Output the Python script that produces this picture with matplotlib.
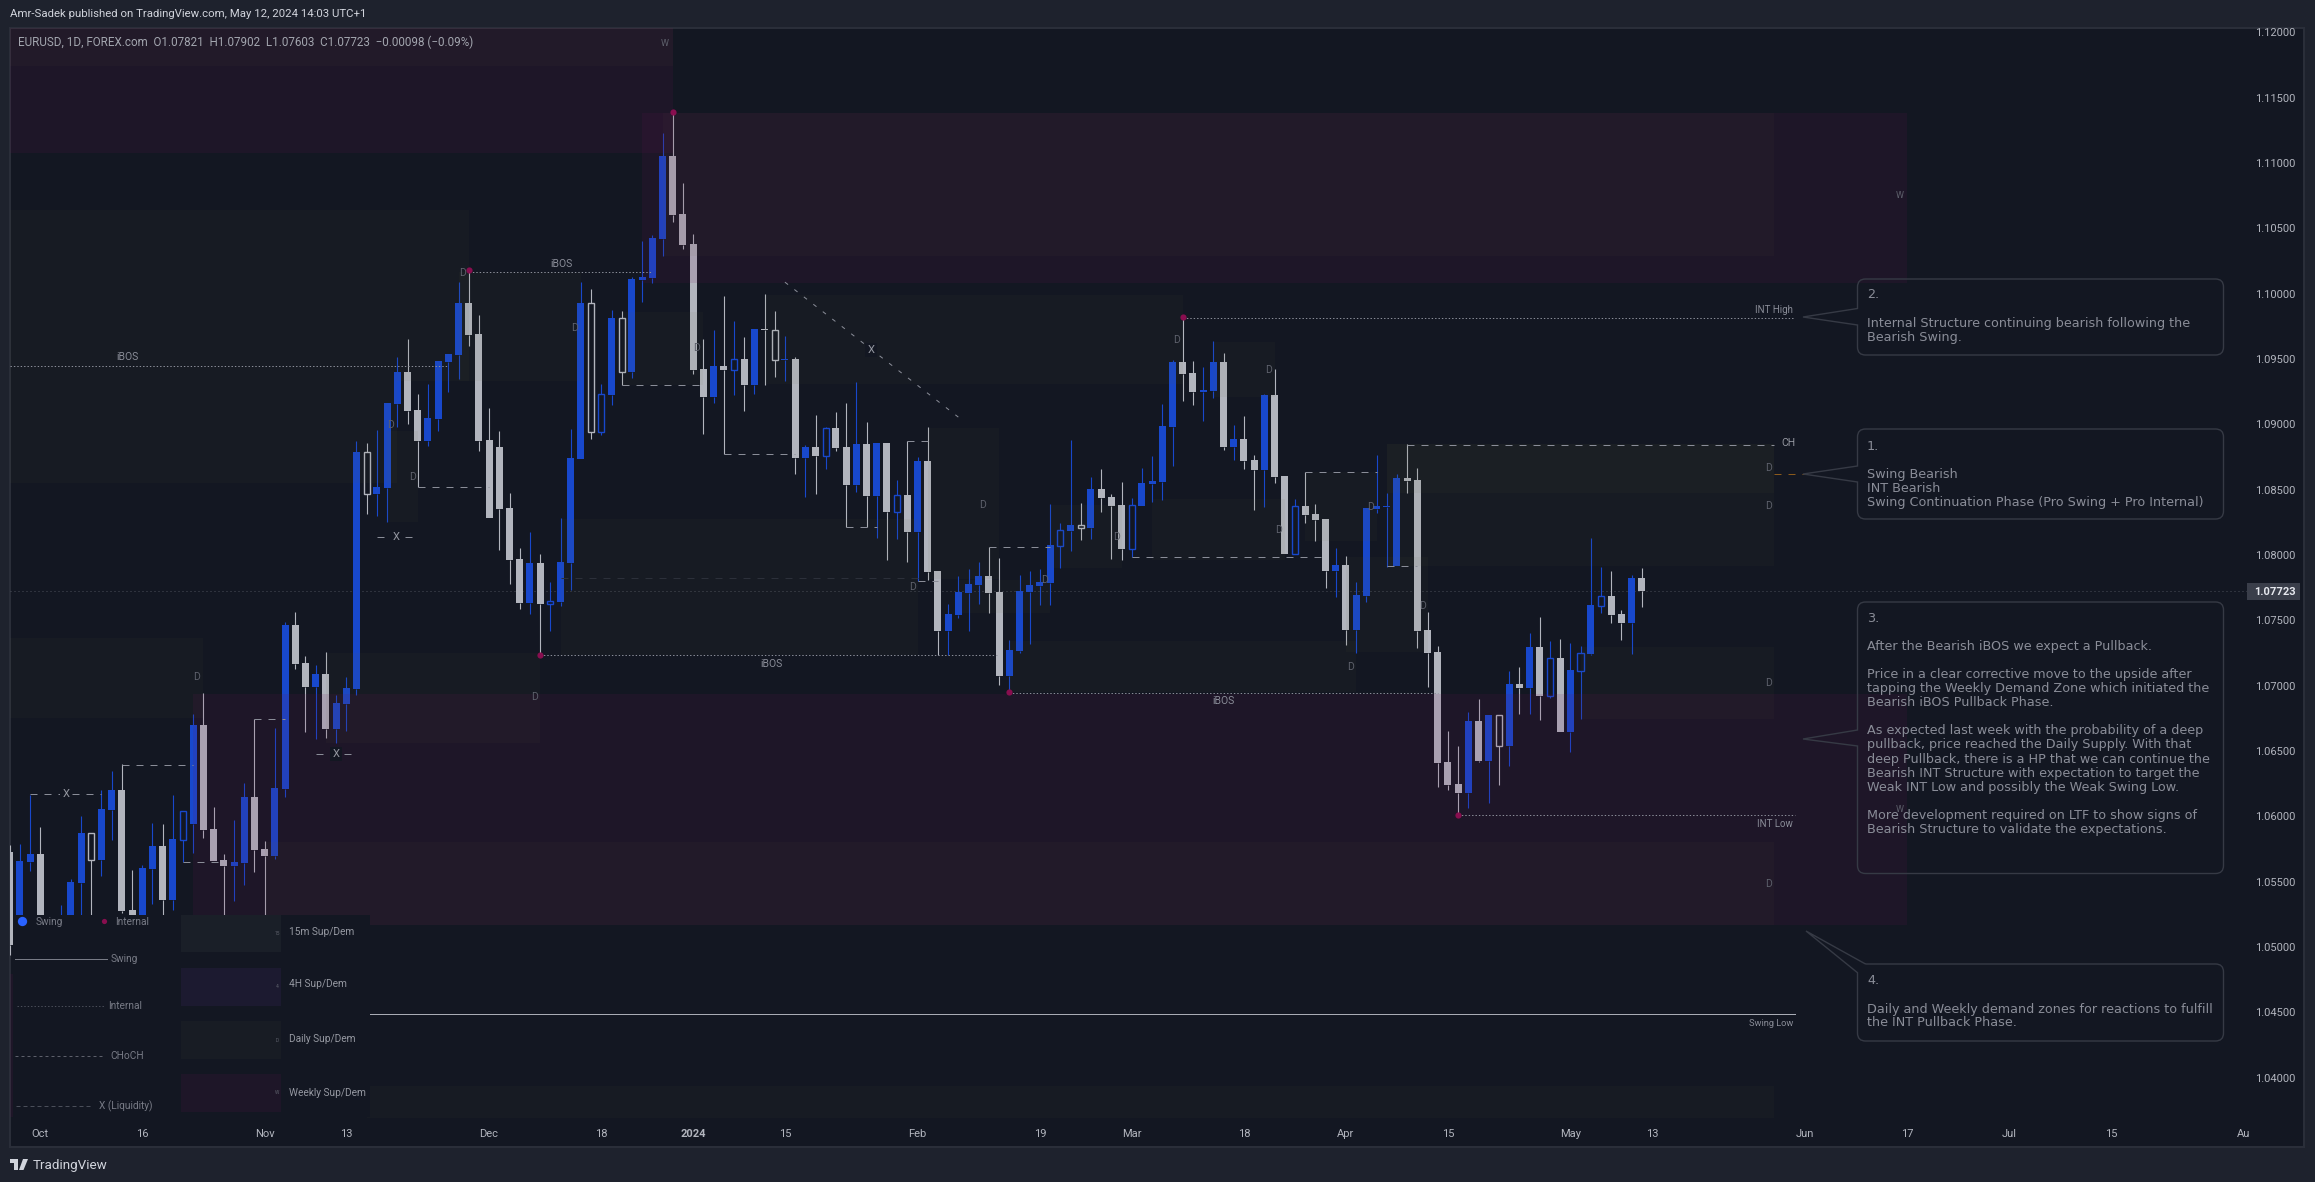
import numpy as np
import matplotlib
matplotlib.use("Agg")
import matplotlib.pyplot as plt
from matplotlib.lines import Line2D
from matplotlib.patches import PathPatch, Polygon, Rectangle
from matplotlib.path import Path
from matplotlib.transforms import Affine2D

W, H = 2315, 1182
FRAME = "#1e222d"
PANE = "#131722"
BLUE = "#1848cc"
GRAY = "#b2b5be"
TEXT = "#787b86"
WEEKLY = "#6f0f54"
DAILY = "#666a43"

plt.rcParams["font.family"] = ["Roboto", "DejaVu Sans"]

# Daily candles, first bar is three sessions before 2 Oct 2023
first_bar = -3
bar_open = [
    1.05726, 1.05129, 1.05650, 1.05710, 1.05129, 1.04976, 1.05167, 1.05488, 1.05871, 1.05665,
    1.06047, 1.06200, 1.05282, 1.05167, 1.05596, 1.05772, 1.05358, 1.05818, 1.05940, 1.06698,
    1.05902, 1.05665, 1.05619, 1.05642, 1.06147, 1.05749, 1.05695, 1.06208, 1.07464, 1.07172,
    1.06989, 1.07088, 1.06667, 1.06858, 1.06973, 1.08788, 1.08466, 1.08512, 1.09155, 1.09400,
    1.09109, 1.08872, 1.09040, 1.09476, 1.09530, 1.09928, 1.09691, 1.08879, 1.08826, 1.08359,
    1.07968, 1.07632, 1.07938, 1.07624, 1.07640, 1.07938, 1.08734, 1.09928, 1.08941, 1.09224,
    1.09813, 1.09400, 1.10104, 1.10120, 1.10418, 1.11053, 1.10609, 1.10380, 1.09423, 1.09209,
    1.09446, 1.09415, 1.09499, 1.09300, 1.09729, 1.09721, 1.09492, 1.09499, 1.08742, 1.08826,
    1.08757, 1.08971, 1.08826, 1.08535, 1.08849, 1.08451, 1.08856, 1.08329, 1.08458, 1.08175,
    1.08719, 1.07877, 1.07417, 1.07540, 1.07708, 1.07769, 1.07838, 1.07716, 1.07073, 1.07264,
    1.07716, 1.07762, 1.07785, 1.08068, 1.08183, 1.08229, 1.08206, 1.08504, 1.08443, 1.08382,
    1.08045, 1.08374, 1.08543, 1.08558, 1.08979, 1.09476, 1.09392, 1.09247, 1.09255, 1.09476,
    1.08826, 1.08887, 1.08726, 1.08650, 1.09224, 1.08604, 1.08007, 1.08374, 1.08313, 1.08275,
    1.07877, 1.07923, 1.07425, 1.07685, 1.08351, 1.08367, 1.07915, 1.08588, 1.08573, 1.07425,
    1.07257, 1.06415, 1.06246, 1.06177, 1.06729, 1.06423, 1.06774, 1.06537, 1.07011, 1.06981,
    1.07295, 1.06920, 1.07211, 1.06645, 1.07111, 1.07241, 1.07609, 1.07685, 1.07548, 1.07479,
    1.07821,
]
bar_high = [
    1.05779, 1.05787, 1.06162, 1.05917, 1.05205, 1.05320, 1.05519, 1.06001, 1.05871, 1.06200,
    1.06346, 1.06399, 1.05588, 1.05627, 1.05948, 1.05940, 1.06162, 1.06040, 1.06782, 1.06943,
    1.06070, 1.05710, 1.05971, 1.06254, 1.06744, 1.05810, 1.06675, 1.07487, 1.07563, 1.07226,
    1.07157, 1.07257, 1.06928, 1.07065, 1.08872, 1.08856, 1.08956, 1.09163, 1.09515, 1.09653,
    1.09231, 1.09308, 1.09484, 1.09537, 1.10089, 1.10181, 1.09836, 1.09125, 1.08948, 1.08474,
    1.08053, 1.08175, 1.08007, 1.07792, 1.08282, 1.08964, 1.10089, 1.10035, 1.09308, 1.09875,
    1.09867, 1.10127, 1.10402, 1.10448, 1.11229, 1.11390, 1.10847, 1.10456, 1.09653, 1.09721,
    1.09982, 1.09790, 1.09668, 1.09729, 1.09997, 1.09867, 1.09675, 1.09515, 1.08841, 1.09071,
    1.08979, 1.09094, 1.09163, 1.09323, 1.09017, 1.08856, 1.08856, 1.08573, 1.08872, 1.08749,
    1.08979, 1.07877, 1.07624, 1.07838, 1.07892, 1.07946, 1.08060, 1.07976, 1.07349, 1.07846,
    1.07876, 1.07892, 1.08389, 1.08244, 1.08879, 1.08397, 1.08596, 1.08657, 1.08466, 1.08558,
    1.08435, 1.08665, 1.08757, 1.09155, 1.09492, 1.09821, 1.09484, 1.09438, 1.09637, 1.09545,
    1.08994, 1.09063, 1.08765, 1.09231, 1.09423, 1.08604, 1.08428, 1.08634, 1.08389, 1.08275,
    1.08053, 1.07992, 1.07792, 1.08359, 1.08765, 1.08474, 1.08619, 1.08849, 1.08665, 1.07563,
    1.07303, 1.06652, 1.06537, 1.06798, 1.06897, 1.06774, 1.06774, 1.07111, 1.07142, 1.07402,
    1.07525, 1.07341, 1.07356, 1.07326, 1.07303, 1.08130, 1.07907, 1.07876, 1.07578, 1.07846,
    1.07902,
]
bar_low = [
    1.04937, 1.05052, 1.05580, 1.05014, 1.04899, 1.04937, 1.05091, 1.05167, 1.05167, 1.05542,
    1.05818, 1.05259, 1.05129, 1.05091, 1.05327, 1.05167, 1.05282, 1.05650, 1.05718, 1.05833,
    1.05657, 1.05167, 1.05350, 1.05473, 1.05573, 1.05167, 1.05672, 1.06147, 1.07127, 1.06645,
    1.06591, 1.06599, 1.06560, 1.06652, 1.06928, 1.08313, 1.08298, 1.08252, 1.08979, 1.09002,
    1.08520, 1.08834, 1.08948, 1.09247, 1.09346, 1.09599, 1.08795, 1.08282, 1.08037, 1.07777,
    1.07586, 1.07548, 1.07234, 1.07417, 1.07609, 1.07731, 1.08734, 1.08887, 1.08918, 1.09148,
    1.09300, 1.09354, 1.09936, 1.10081, 1.10288, 1.10548, 1.10341, 1.09384, 1.08925, 1.09163,
    1.08772, 1.09224, 1.09101, 1.09231, 1.09300, 1.09361, 1.09331, 1.08619, 1.08443, 1.08466,
    1.08657, 1.08795, 1.08214, 1.08481, 1.08214, 1.08130, 1.07961, 1.08122, 1.07946, 1.07800,
    1.07808, 1.07234, 1.07234, 1.07517, 1.07417, 1.07624, 1.07555, 1.07004, 1.06950, 1.07249,
    1.07318, 1.07617, 1.07617, 1.07899, 1.08030, 1.08114, 1.08122, 1.08329, 1.07968, 1.07961,
    1.07984, 1.08374, 1.08405, 1.08420, 1.08680, 1.09178, 1.09148, 1.09025, 1.09201, 1.08803,
    1.08726, 1.08657, 1.08344, 1.08367, 1.08550, 1.08007, 1.08007, 1.08244, 1.08107, 1.07746,
    1.07678, 1.07310, 1.07249, 1.07640, 1.08321, 1.07907, 1.07915, 1.08474, 1.07287, 1.06989,
    1.06223, 1.06200, 1.06009, 1.06063, 1.06415, 1.06101, 1.06239, 1.06384, 1.06782, 1.06782,
    1.06736, 1.06905, 1.06645, 1.06492, 1.06744, 1.07234, 1.07555, 1.07479, 1.07349, 1.07241,
    1.07603,
]
bar_close = [
    1.05014, 1.05657, 1.05710, 1.05091, 1.04976, 1.05205, 1.05496, 1.05871, 1.05665, 1.06055,
    1.06200, 1.05274, 1.05220, 1.05603, 1.05772, 1.05358, 1.05825, 1.06040, 1.06698, 1.05894,
    1.05657, 1.05619, 1.05650, 1.06147, 1.05741, 1.05695, 1.06215, 1.07464, 1.07165, 1.06989,
    1.07088, 1.06667, 1.06866, 1.06981, 1.08788, 1.08466, 1.08520, 1.09163, 1.09400, 1.09101,
    1.08872, 1.09048, 1.09484, 1.09537, 1.09928, 1.09683, 1.08872, 1.08282, 1.08351, 1.07961,
    1.07632, 1.07938, 1.07624, 1.07647, 1.07946, 1.08742, 1.09928, 1.08941, 1.09231, 1.09813,
    1.09400, 1.10112, 1.10127, 1.10425, 1.11053, 1.10602, 1.10372, 1.09415, 1.09209, 1.09446,
    1.09415, 1.09499, 1.09300, 1.09729, 1.09721, 1.09492, 1.09499, 1.08742, 1.08826, 1.08757,
    1.08971, 1.08818, 1.08535, 1.08849, 1.08451, 1.08856, 1.08329, 1.08458, 1.08175, 1.08719,
    1.07869, 1.07417, 1.07548, 1.07716, 1.07777, 1.07838, 1.07708, 1.07073, 1.07272, 1.07724,
    1.07769, 1.07792, 1.08076, 1.08191, 1.08229, 1.08206, 1.08504, 1.08435, 1.08374, 1.08045,
    1.08382, 1.08550, 1.08566, 1.08987, 1.09476, 1.09384, 1.09247, 1.09262, 1.09476, 1.08826,
    1.08887, 1.08719, 1.08650, 1.09224, 1.08596, 1.08007, 1.08374, 1.08305, 1.08267, 1.07877,
    1.07923, 1.07425, 1.07693, 1.08359, 1.08374, 1.08374, 1.08588, 1.08566, 1.07417, 1.07249,
    1.06407, 1.06239, 1.06177, 1.06729, 1.06423, 1.06774, 1.06537, 1.07011, 1.06981, 1.07295,
    1.06920, 1.07211, 1.06645, 1.07119, 1.07249, 1.07617, 1.07685, 1.07540, 1.07479, 1.07823,
    1.07723,
]
hollow_bars = [5, 14, 32, 50, 54, 55, 57, 68, 72, 77, 84, 100, 102, 107, 123, 143, 148, 151, 153]

high_marks = [42, 62, 112]
low_marks = [49, 95, 139]

price_ticks = [1.04, 1.045, 1.05, 1.055, 1.06, 1.065, 1.07, 1.075, 1.08, 1.085,
               1.09, 1.095, 1.10, 1.105, 1.11, 1.115, 1.12]
time_ticks = [0, 10, 22, 30, 44, 55, 64, 73, 86, 98, 107, 118, 128, 138, 150, 158, 173, 183, 193, 203, 216]
time_labels = ["Oct", "16", "Nov", "13", "Dec", "18", "2024", "15", "Feb", "19", "Mar",
               "18", "Apr", "15", "May", "13", "Jun", "17", "Jul", "15", "Au"]

# Zones as (first bar, last bar, top price, bottom price)
weekly_zones = [
    (-3, 62, 1.1204, 1.11076),
    (59, 183, 1.11382, 1.10081),
    (15, 183, 1.06939, 1.05167),
    (-3, 0, 1.04794, 1.03700),
]
daily_zones = [
    (-3, 62, 1.1204, 1.11743),
    (61, 170, 1.11382, 1.10288),
    (22, 170, 1.05802, 1.05167),
    (-3, 42, 1.10640, 1.09331),
    (-3, 35, 1.09331, 1.08550),
    (41, 53, 1.10165, 1.09331),
    (34, 37, 1.08948, 1.08252),
    (-3, 16, 1.07364, 1.06751),
    (28, 49, 1.07249, 1.06560),
    (57, 65, 1.09859, 1.09300),
    (71, 112, 1.09990, 1.09308),
    (87, 94, 1.08971, 1.07815),
    (51, 86, 1.08275, 1.07234),
    (99, 106, 1.08382, 1.07899),
    (90, 99, 1.07808, 1.07555),
    (109, 122, 1.08428, 1.07961),
    (115, 121, 1.09630, 1.09209),
    (124, 131, 1.08634, 1.08107),
    (132, 170, 1.08849, 1.08474),
    (132, 170, 1.08849, 1.07915),
    (128, 136, 1.07984, 1.07257),
    (95, 129, 1.07341, 1.06950),
    (151, 170, 1.07295, 1.06744),
    (32, 170, 1.03937, 1.03692),
]

# Structure lines as (first bar, last bar, price)
dotted_lines = [
    (-3, 40, 1.09450),
    (42, 60, 1.10169),
    (49, 94, 1.07232),
    (95, 137, 1.06945),
    (112, 172, 1.09813),
    (139, 172, 1.06010),
]
dashed_lines = [
    (-1, 6, 1.06168), (8, 15, 1.06397), (14, 18, 1.05650), (21, 24, 1.06744),
    (27, 31, 1.06476), (37, 44, 1.08520), (33, 37, 1.08137), (57, 65, 1.09300),
    (67, 74, 1.08772), (79, 82, 1.08214), (85, 87, 1.08872), (86, 88, 1.07800),
    (93, 99, 1.08060), (107, 126, 1.07984), (124, 131, 1.08634), (132, 135, 1.07915),
    (134, 170, 1.08845),
]
liquidity_bars = [73, 90]
liquidity_prices = [1.10089, 1.09056]
swing_low = (32, 172, 1.04484)
dim_line = (51, 86, 1.07822)
orange_line = (170, 173, 1.08619)
last_price = 1.07723

fig = plt.figure(figsize=(W / 100, H / 100), dpi=100, facecolor=FRAME)
# image pixels, y down, used for annotation furniture only
pix = Affine2D().scale(1 / W, -1 / H).translate(0, 1) + fig.transFigure

fig.add_artist(Rectangle((10, 28), 2294, 1119, transform=pix, facecolor=PANE,
                         edgecolor="#2a2e39", linewidth=1.5, zorder=-1))

ax = fig.add_axes([10 / W, 1 - 1119 / H, 2237 / W, 1091 / H])
ax.patch.set_visible(False)
for side in ax.spines.values():
    side.set_visible(False)

idx = np.arange(first_bar, first_bar + len(bar_open))
o = np.array(bar_open)
h = np.array(bar_high)
l = np.array(bar_low)
c = np.array(bar_close)
up = c >= o
hollow = np.isin(idx, hollow_bars)
body_top = np.maximum(o, c)
body_bot = np.minimum(o, c)
colors = np.where(up, BLUE, GRAY)

# Candles
ax.vlines(idx, body_top, h, colors=colors, linewidth=0.8, zorder=2)
ax.vlines(idx, l, body_bot, colors=colors, linewidth=0.8, zorder=2)
solid = ~hollow
ax.bar(idx[solid], (body_top - body_bot)[solid], bottom=body_bot[solid], width=0.68,
       color=colors[solid], linewidth=0, zorder=2)
ax.bar(idx[hollow], (body_top - body_bot)[hollow], bottom=body_bot[hollow], width=0.6,
       facecolor="none", edgecolor=colors[hollow], linewidth=1.0, zorder=2)

# Zones sit on top of the candles and tint them
for a, b, top, bot in weekly_zones:
    ax.fill_between([a, b], bot, top, color=WEEKLY, alpha=0.12, linewidth=0, zorder=3)
for a, b, top, bot in daily_zones:
    ax.fill_between([a, b], bot, top, color=DAILY, alpha=0.06, linewidth=0, zorder=3)

# Structure lines
ax.axhline(last_price, color="#4a4e59", linewidth=0.72, dashes=(1, 3), zorder=1)
for a, b, p in dotted_lines:
    ax.plot([a, b], [p, p], color="#8a8d98", linewidth=0.72, dashes=(1.4, 2), zorder=4)
for a, b, p in dashed_lines:
    ax.plot([a, b], [p, p], color="#8a8d98", linewidth=0.72, dashes=(7, 7), zorder=4)
ax.plot(liquidity_bars, liquidity_prices, color="#8a8d98", linewidth=0.72, dashes=(4, 8), zorder=4)
ax.plot(swing_low[:2], [swing_low[2]] * 2, color="#a9acb5", linewidth=0.72, zorder=4)
ax.plot(dim_line[:2], [dim_line[2]] * 2, color="#2c303a", linewidth=0.72, dashes=(7, 7), zorder=4)
ax.plot(orange_line[:2], [orange_line[2]] * 2, color="#8a5a1c", linewidth=0.72, dashes=(7, 7), zorder=4)

# Swing and internal points
mark_idx = [i for i in high_marks + low_marks]
mark_price = [h[i - first_bar] for i in high_marks] + [l[i - first_bar] for i in low_marks]
ax.scatter(mark_idx, mark_price, s=20, color="#880e4f", linewidths=0, zorder=5)

ax.set_xlim(-2.97, 216.34)
ax.set_ylim(1.03684, 1.12034)

ax.yaxis.tick_right()
ax.set_yticks(price_ticks)
ax.set_yticklabels(["%.5f" % p for p in price_ticks])
ax.set_xticks(time_ticks)
ax.set_xticklabels(time_labels)
ax.tick_params(axis="y", length=0, pad=6, labelsize=8, labelcolor=GRAY)
ax.tick_params(axis="x", length=0, pad=7, labelsize=8, labelcolor=GRAY)
for lab in ax.get_xticklabels():
    if lab.get_text() == "2024":
        lab.set_fontweight("bold")


def label(x, y, s, size=7.5, color=TEXT, ha="center", **kw):
    ax.text(x, y, s, transform=pix, fontsize=size, color=color, ha=ha, va="center",
            clip_on=False, zorder=kw.pop("zorder", 6), **kw)


# Zone and structure labels
d_spots = [(463, 273), (575, 328), (391, 425), (412, 477), (197, 677), (534, 697), (696, 348),
           (982, 505), (912, 587), (1116, 537), (1044, 580), (1279, 530), (1269, 370), (1371, 507),
           (1769, 468), (1769, 506), (1769, 683), (1769, 884), (1422, 606), (1351, 667), (1177, 340)]
for x, y in d_spots:
    label(x, y, "D", color="#5d606b")
for x, y in [(665, 43), (1900, 196), (1900, 810)]:
    label(x, y, "W", size=6.5, color="#5d606b")
for x, y in [(127, 357), (561, 264), (771, 664), (1223, 701)]:
    label(x, y, "iBOS", color="#8a8d98")
label(1793, 310, "INT High", size=7, color="#8a8d98", ha="right")
label(1793, 824, "INT Low", size=7, color="#8a8d98", ha="right")
label(1793, 1023, "Swing Low", size=6.7, color="#8a8d98", ha="right")
label(1788, 443, "CH", size=7.5, color="#9598a1")
knock = dict(facecolor=PANE, edgecolor="none", pad=1.5)
for x, y in [(66, 794), (336, 754), (396, 537), (871, 350)]:
    label(x, y, "X", size=8, color="#9598a1", bbox=knock)

# Top and bottom strips
label(10, 14, "Amr-Sadek published on TradingView.com, May 12, 2024 14:03 UTC+1", size=8.2,
      color="#d1d4dc", ha="left")
label(18, 42, "EURUSD, 1D, FOREX.com  O1.07821  H1.07902  L1.07603  C1.07723  \u22120.00098 (\u22120.09%)",
      size=8.4, color="#a3a6af", ha="left")
label(33, 1165, "TradingView", size=9.7, color="#d1d4dc", ha="left")
fig.add_artist(Polygon([(10, 1159), (18, 1159), (18, 1170), (14, 1170), (14, 1163), (10, 1163)],
                       transform=pix, facecolor="#d1d4dc", edgecolor="none"))
fig.add_artist(Polygon([(23, 1159), (28, 1159), (23.5, 1170), (19, 1170)],
                       transform=pix, facecolor="#d1d4dc", edgecolor="none"))

# Last price tag
ax.add_patch(Rectangle((2247, 583), 53, 17, transform=pix, facecolor="#3a3e4a", edgecolor="none",
                       clip_on=False, zorder=6))
label(2275, 592, "1.07723", size=8, color="#e6e8ee", fontweight="bold", zorder=7)

# Legend panel
ax.add_patch(Rectangle((13, 915), 357, 202, transform=pix, facecolor=PANE, edgecolor="none",
                       clip_on=False, zorder=4.5))
swatches = [(915, 37, "#1a1f28", "15", "15m Sup/Dem", 932), (968, 38, "#1c1a30", "4", "4H Sup/Dem", 984),
            (1021, 38, "#181c24", "D", "Daily Sup/Dem", 1039), (1074, 38, "#1e1628", "W", "Weekly Sup/Dem", 1093)]
for top, height, col, tag, name, ty in swatches:
    ax.add_patch(Rectangle((181, top), 100, height, transform=pix, facecolor=col, edgecolor="none",
                           clip_on=False, zorder=4.6))
    label(277, top + height / 2, tag, size=3.5, color="#5d606b")
    label(289, ty, name, size=7.3, color="#9598a1", ha="left")
ax.scatter([22], [921], s=45, color="#2962ff", linewidths=0, transform=pix, clip_on=False, zorder=6)
ax.scatter([104], [921], s=14, color="#880e4f", linewidths=0, transform=pix, clip_on=False, zorder=6)
label(36, 922, "Swing", size=7.3, ha="left")
label(115, 922, "Internal", size=7.3, ha="left")
key_lines = [(15, 107, 959, None, "#787b86", "Swing", 111), (17, 104, 1006, (1.4, 2), "#4a4e59", "Internal", 108),
             (15, 105, 1056, (3, 3), "#5d606b", "CHoCH", 110), (16, 93, 1106, (4, 3), "#4a4e59", "X (Liquidity)", 99)]
for x0, x1, y, dash, col, name, tx in key_lines:
    line = Line2D([x0, x1], [y, y], transform=pix, color=col, linewidth=0.72, zorder=6)
    if dash:
        line.set_dashes(dash)
    line.set_clip_on(False)
    ax.add_line(line)
    label(tx, y, name, size=7.3, ha="left")


def callout(left, top, right, bottom, tip, upper, lower):
    r = 8
    verts = [(left + r, top), (right - r, top), (right, top), (right, top + r), (right, bottom - r),
             (right, bottom), (right - r, bottom), (left + r, bottom), (left, bottom), (left, bottom - r),
             (left, lower), tip]
    codes = [Path.MOVETO, Path.LINETO, Path.CURVE3, Path.CURVE3, Path.LINETO, Path.CURVE3, Path.CURVE3,
             Path.LINETO, Path.CURVE3, Path.CURVE3, Path.LINETO, Path.LINETO]
    if upper is None:
        verts.append((left + r, top))
        codes.append(Path.LINETO)
    else:
        verts += [(left, upper), (left, top + r), (left, top), (left + r, top)]
        codes += [Path.LINETO, Path.LINETO, Path.CURVE3, Path.CURVE3]
    ax.add_patch(PathPatch(Path(verts, codes), transform=pix, facecolor="none", edgecolor="#363a45",
                           linewidth=1.0, clip_on=False, zorder=6))


callout(1857.5, 279, 2223.5, 355, (1803, 317), 308.5, 325)
callout(1857.5, 429, 2223.5, 519, (1803, 474), 466, 482)
callout(1857.5, 602, 2223.5, 873.5, (1803, 739), 730, 746)
callout(1857.5, 964, 2223.5, 1041, (1806, 931), None, 972.7)

note_2 = ["2.", "", "Internal Structure continuing bearish following the", "Bearish Swing."]
note_1 = ["1.", "", "Swing Bearish", "INT Bearish", "Swing Continuation Phase (Pro Swing + Pro Internal)"]
note_3 = ["3.", "", "After the Bearish iBOS we expect a Pullback.", "",
          "Price in a clear corrective move to the upside after",
          "tapping the Weekly Demand Zone which initiated the",
          "Bearish iBOS Pullback Phase.", "",
          "As expected last week with the probability of a deep",
          "pullback, price reached the Daily Supply. With that",
          "deep Pullback, there is a HP that we can continue the",
          "Bearish INT Structure with expectation to target the",
          "Weak INT Low and possibly the Weak Swing Low.", "",
          "More development required on LTF to show signs of",
          "Bearish Structure to validate the expectations."]
note_4 = ["4.", "", "Daily and Weekly demand zones for reactions to fulfill", "the INT Pullback Phase."]

for lines, y0 in [(note_2, 295), (note_1, 446), (note_3, 618.5)]:
    for n, s in enumerate(lines):
        label(1867, y0 + n * 14.05, s, size=9.2, color="#8a8d98", ha="left", family="DejaVu Sans")
for n, s in zip([0, 2, 3], ["4.", note_4[2], note_4[3]]):
    label(1867, 981 + n * 14, s, size=9.2, color="#8a8d98", ha="left", family="DejaVu Sans")

fig.savefig("out.png", dpi=100, facecolor=FRAME)
